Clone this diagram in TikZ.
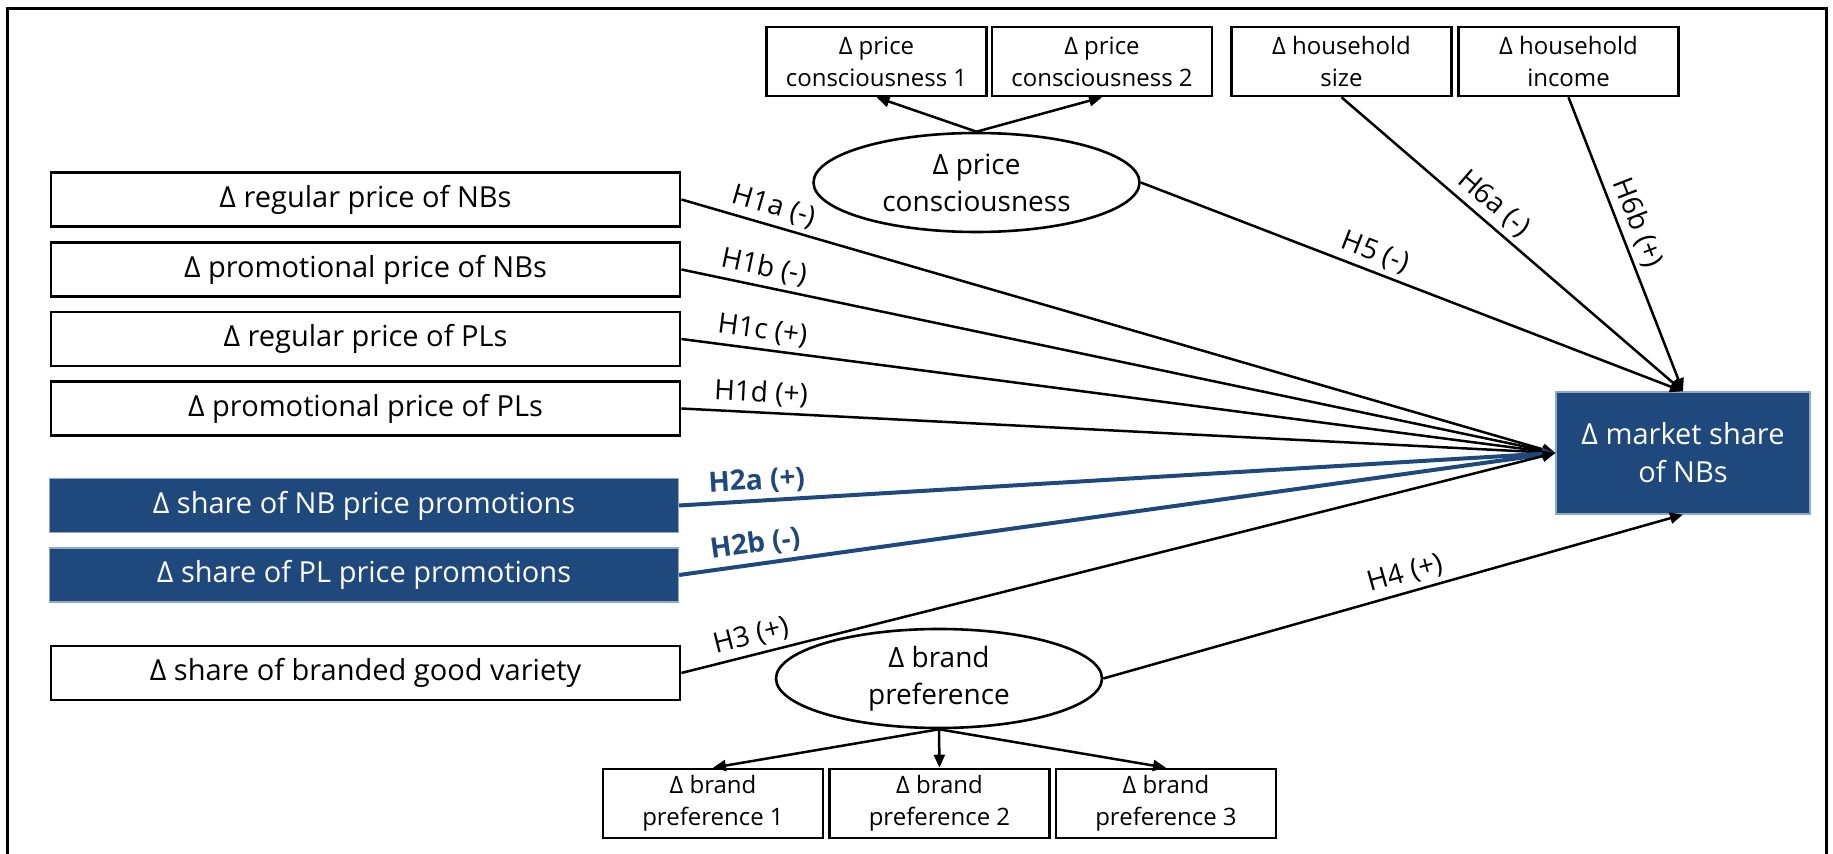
\documentclass[tikz,border=0pt]{standalone}
\usepackage{fontspec}
\setmainfont{Open Sans}
\usetikzlibrary{shapes.geometric, arrows.meta}
\definecolor{nbblue}{HTML}{1F497D}
\definecolor{nbedge}{HTML}{8EA9C8}

\begin{document}
\begin{tikzpicture}[x=0.5pt, y=-0.5pt,
        var/.style = {draw, line width=1.4pt, minimum width=314.5pt, minimum height=27pt, inner sep=0pt, font=\fontsize{14.5}{17}\selectfont},
        focal/.style = {var, fill=nbblue, draw=nbedge, line width=0.6pt, text=white},
        ind/.style = {draw, line width=1.3pt, minimum width=110pt, minimum height=34.5pt, inner sep=0pt, align=center, font=\fontsize{12}{16}\selectfont},
        lat/.style = {draw, ellipse, line width=1.3pt, minimum width=163pt, minimum height=49.5pt, inner sep=0pt, align=center, font=\fontsize{14}{18.5}\selectfont},
        link/.style = {line width=1.25pt, -{Triangle[length=6.5pt, width=5.5pt]}},
        bluelink/.style = {link, nbblue, line width=2pt},
        hyp/.style = {font=\fontsize{14}{16}\selectfont, sloped, above, inner sep=2.5pt},
        bluehyp/.style = {hyp, font=\fontsize{14}{16}\selectfont\bfseries, text=nbblue}
        ]
        \useasboundingbox (0,0) rectangle (1833,854);
        \draw[line width=1.5pt] (7,854) -- (7,9) -- (1826,9) -- (1826,854);

        \node[var] (rpnb) at (365.5,199.5) {Δ regular price of NBs};
        \node[var] (ppnb) at (365.5,269.5) {Δ promotional price of NBs};
        \node[var] (rppl) at (365.5,339) {Δ regular price of PLs};
        \node[var] (pppl) at (365.5,408.5) {Δ promotional price of PLs};
        \node[focal] (snb) at (364,505.5) {Δ share of NB price promotions};
        \node[focal] (spl) at (364,575) {Δ share of PL price promotions};
        \node[var] (bgv) at (365.5,673) {Δ share of branded good variety};

        \node[focal, minimum width=127pt, minimum height=61pt, align=center,
            font=\fontsize{14.5}{19}\selectfont] (ms) at (1683,453) {Δ market share\\of NBs};

        \node[lat] (pc) at (976.5,182.5) {Δ price\\consciousness};
        \node[ind] (pc1) at (876.5,61.5) {Δ price\\consciousness 1};
        \node[ind] (pc2) at (1102,61.5) {Δ price\\consciousness 2};
        \node[ind] (hhs) at (1341.5,61.5) {Δ household\\size};
        \node[ind] (hhi) at (1568.5,61.5) {Δ household\\income};

        \node[lat] (bp) at (939,678.5) {Δ brand\\preference};
        \node[ind] (bp1) at (713,803.5) {Δ brand\\preference 1};
        \node[ind] (bp2) at (939.5,803.5) {Δ brand\\preference 2};
        \node[ind] (bp3) at (1166,803.5) {Δ brand\\preference 3};

        \draw[link] (pc.north) -- (pc1.south);
        \draw[link] (pc.north) -- (pc2.south);
        \draw[link] (bp.south) -- (bp1.north);
        \draw[link] (bp.south) -- (bp2.north);
        \draw[link] (bp.south) -- (bp3.north);

        \draw[link] (rpnb.east) -- node[hyp, pos=.1] {H1a (-)} (ms.west);
        \draw[link] (ppnb.east) -- node[hyp, pos=.09] {H1b (-)} (ms.west);
        \draw[link] (rppl.east) -- node[hyp, pos=.09] {H1c (+)} (ms.west);
        \draw[link] (pppl.east) -- node[hyp, pos=.09] {H1d (+)} (ms.west);
        \draw[bluelink] (snb.east) -- node[bluehyp, pos=.09] {H2a (+)} (ms.west);
        \draw[bluelink] (spl.east) -- node[bluehyp, pos=.09] {H2b (-)} (ms.west);
        \draw[link] (bgv.east) -- node[hyp, pos=.085] {H3 (+)} (ms.west);
        \draw[link] (bp.east) -- node[hyp, pos=.53] {H4 (+)} (ms.south);
        \draw[link] (pc.east) -- node[hyp, pos=.42] {H5 (-)} (ms.north);
        \draw[link] (hhs.south) -- node[hyp, pos=.41] {H6a (-)} (ms.north);
        \draw[link] (hhi.south) -- node[hyp, pos=.45] {H6b (+)} (ms.north);
    \end{tikzpicture}
\end{document}
